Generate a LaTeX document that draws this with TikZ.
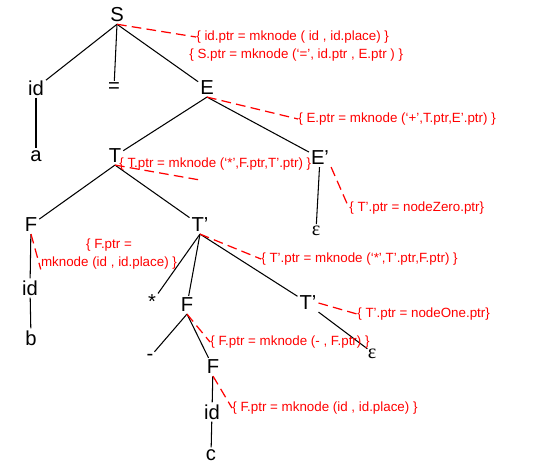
\documentclass[tikz,border=0pt]{standalone}
\usepackage{fontspec}
\setmainfont{Liberation Sans}
\newfontfamily\epsfont{Liberation Serif}
\begin{document}
\begin{tikzpicture}[x=0.02cm, y=-0.02cm,
  tnode/.style={font=\fontsize{11.5}{13}\selectfont, inner sep=1pt},
  lbl/.style={font=\fontsize{7.6}{10}\selectfont, text=red, inner sep=0pt, anchor=west},
  sem/.style={red, line width=0.7pt, dash pattern=on 5.5pt off 3pt},
  edge/.style={black, line width=0.6pt}]
\useasboundingbox (0,0) rectangle (539,468);
% tree
\node[tnode] (S) at (117,15) {S};
\node[tnode] (id1) at (36,88) {id};
\node[tnode] (eq) at (114,88) {=};
\node[tnode] (E) at (207,88) {E};
\node[tnode] (a) at (36,156) {a};
\node[tnode] (T) at (115,156) {T};
\node[tnode] (E2) at (320,158) {E'};
\node[tnode] (F1) at (31,225) {F};
\node[tnode] (T2) at (200,225) {T'};
\node[tnode] (eps1) at (316,231) {\epsfont ε};
\node[tnode] (id2) at (30,288) {id};
\node[tnode] (b) at (31,338) {b};
\node[tnode] (star) at (152,302) {*};
\node[tnode] (F2) at (187,305) {F};
\node[tnode] (T3) at (308,303) {T'};
\node[tnode, inner sep=0pt] (eps2) at (372,354) {\epsfont ε};
\node[tnode] (minus) at (150,357) {-};
\node[tnode] (F3) at (213,367) {F};
\node[tnode] (id3) at (212,412) {id};
\node[tnode] (c) at (211,455) {c};
\draw[edge] (S.south) -- (id1);
\draw[edge] (S.south) -- (eq);
\draw[edge] (S.south) -- (E);
\draw[edge] (id1) -- (a);
\draw[edge] (E.south) -- (T);
\draw[edge] (E.south) -- (E2);
\draw[edge] (T.south) -- (F1);
\draw[edge] (T.south) -- (T2);
\draw[edge] (E2) -- (eps1);
\draw[edge] (F1) -- (id2);
\draw[edge] (id2) -- (b);
\draw[edge] (T2.south) -- (star);
\draw[edge] (T2.south) -- (F2);
\draw[edge] (T2.south) -- (T3);
\draw[edge] (T3.south east) -- (eps2.north west);
\draw[edge] (F2.south) -- (minus);
\draw[edge] (F2.south) -- (F3);
\draw[edge] (F3) -- (id3);
\draw[edge] (id3) -- (c);
% semantic rules
\node[lbl] (lbS1) at (196,37) {\{ id.ptr = mknode ( id , id.place) \}};
\node[lbl] (lbS2) at (189,55) {\{ S.ptr = mknode (`=', id.ptr , E.ptr ) \}};
\node[lbl] (lbE) at (298,119) {\{ E.ptr = mknode (`+',T.ptr,E'.ptr) \}};
\node[lbl] (lbT) at (119,164) {\{ T.ptr = mknode (`*',F.ptr,T'.ptr) \}};
\coordinate (tEnd) at (200,180);
\node[lbl] (lbE2) at (349,208) {\{ T'.ptr = nodeZero.ptr\}};
\node[lbl, anchor=center, align=center] (lbF1) at (109,254) {\{ F.ptr =\\mknode (id , id.place) \}};
\node[lbl] (lbT2) at (261,259) {\{ T'.ptr = mknode (`*',T'.ptr,F.ptr) \}};
\node[lbl] (lbT3) at (357,314) {\{ T'.ptr = nodeOne.ptr\}};
\node[lbl] (lbF2) at (210,342) {\{ F.ptr = mknode (- , F.ptr) \}};
\node[lbl] (lbF3) at (232,408) {\{ F.ptr = mknode (id , id.place) \}};
\draw[sem] (S.south) -- (lbS1.west);
\draw[sem] (E.south) -- (lbE.west);
\draw[sem] (T.south) -- (tEnd);
\draw[sem] (E2.south east) -- (lbE2.west);
\draw[sem] (F1.south) -- (lbF1.south west);
\draw[sem] (T2.south) -- (lbT2.west);
\draw[sem] (T3.east) -- (lbT3.west);
\draw[sem] (F2.south) -- (lbF2.west);
\draw[sem] (F3.south) -- (lbF3.west);
\end{tikzpicture}
\end{document}
